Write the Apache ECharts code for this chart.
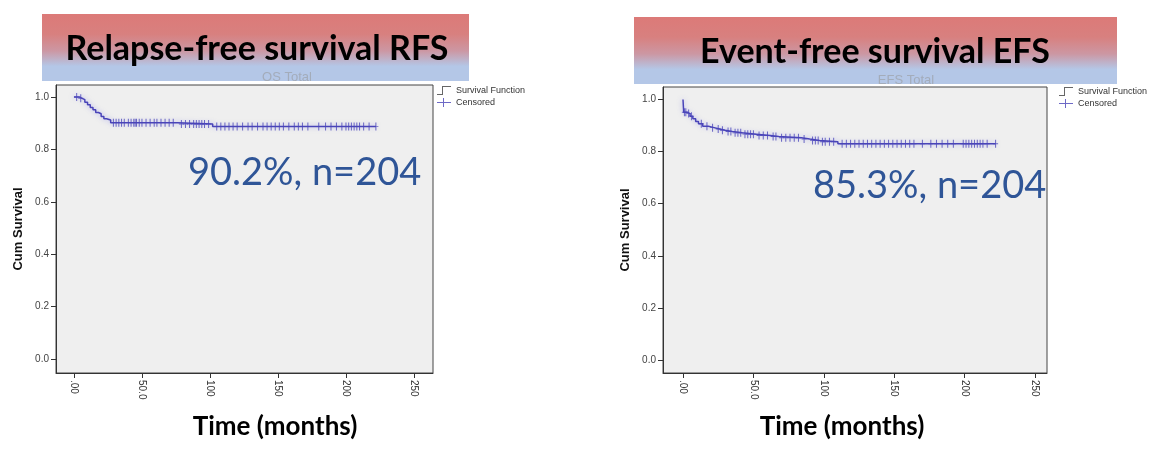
<!DOCTYPE html>
<html lang="en">
<head>
<meta charset="UTF-8"/>
<title>RFS / EFS survival</title>
<script src="https://cdn.jsdelivr.net/npm/echarts@6/dist/echarts.min.js"></script>
<style>
    html, body { margin: 0; padding: 0; background: #ffffff; }
    #chart { width: 1161px; height: 474px; }
</style>
</head>
<body>
<div id="chart"></div>
<script>
// ---- values ----
// Relapse-free survival: step points (months, cum survival after the event)
const rfsTimes = [0, 4, 6, 8, 10, 12, 14, 16, 18, 20, 22, 24, 27, 76, 102, 222];
const rfsSurv  = [1.000, 0.995, 0.990, 0.980, 0.970, 0.960, 0.951, 0.941, 0.936, 0.926, 0.917, 0.912, 0.902, 0.897, 0.887, 0.887];
const rfsCensored = [2, 5, 29, 31, 33, 35, 37, 40, 42, 44, 45, 46, 48, 50, 53, 56, 59, 61, 64, 67, 70, 73,
    79, 82, 85, 88, 90, 92, 94, 96, 99, 105, 108, 111, 114, 117, 120, 124, 128, 131, 135, 139, 142, 145,
    148, 151, 154, 158, 162, 165, 168, 172, 180, 185, 189, 193, 197, 200, 202, 204, 206, 208, 210, 213, 217, 222];

// Event-free survival
const efsTimes = [0, 0.5, 3, 5, 7, 9, 11, 14, 18, 22, 26, 30, 35, 42, 52, 62, 68, 84, 90, 97, 110, 222];
const efsSurv  = [1.000, 0.951, 0.946, 0.936, 0.926, 0.916, 0.907, 0.897, 0.892, 0.887, 0.882, 0.877, 0.872,
    0.867, 0.862, 0.858, 0.853, 0.848, 0.843, 0.838, 0.830, 0.830];
const efsCensored = [1, 2, 4, 6, 13, 17, 21, 25, 28, 32, 34, 37, 39, 41, 44, 46, 48, 50, 54, 57, 60, 64, 66,
    70, 73, 76, 79, 82, 86, 92, 94, 96, 99, 101, 104, 107, 113, 116, 119, 122, 125, 128, 131, 134, 137, 140,
    143, 146, 149, 152, 155, 158, 161, 164, 170, 176, 180, 184, 188, 192, 199, 201, 203, 205, 207, 209, 211,
    213, 216, 222];

const xTicks = [0, 50, 100, 150, 200, 250];
const xTickLabels = ['.00', '50.0', '100', '150', '200', '250'];
const yTicks = [0, 0.2, 0.4, 0.6, 0.8, 1.0];
const yTickLabels = ['0.0', '0.2', '0.4', '0.6', '0.8', '1.0'];

const curveColor = '#4944b8';
const plusPath = 'path://M2,0H3V4H5V5H3V9H2V5H0V4H2Z';
const legendPlusPath = 'path://M6,0H7V4H14V5H7V9H6V5H0V4H6Z';
const stepPath = 'path://M0,8H5V0H14V1H6V9H0Z';

function survAt(times, surv, t) {
    let s = surv[0];
    for (let i = 0; i < times.length; i++) if (times[i] <= t) s = surv[i];
    return s;
}

const chart = echarts.init(document.getElementById('chart'));

function xAxisOf(gi, min, max) {
    return {
        type: 'value', gridIndex: gi, min: min, max: max,
        axisLine: { show: true, onZero: false, lineStyle: { color: '#333', width: 1 } },
        axisTick: { show: true, length: 5, customValues: xTicks, lineStyle: { color: '#333' } },
        axisLabel: {
            customValues: xTicks, rotate: -90, fontSize: 10, color: '#333', margin: 7,
            fontFamily: 'Liberation Sans',
            formatter: v => xTickLabels[xTicks.indexOf(v)]
        },
        splitLine: { show: false }
    };
}
function yAxisOf(gi, min, max) {
    return {
        type: 'value', gridIndex: gi, min: min, max: max,
        name: 'Cum Survival', nameLocation: 'middle', nameGap: 31,
        nameTextStyle: { fontSize: 13, fontWeight: 'bold', color: '#111', fontFamily: 'Liberation Sans' },
        axisLine: { show: true, onZero: false, lineStyle: { color: '#333', width: 1 } },
        axisTick: { show: true, length: 5, customValues: yTicks, lineStyle: { color: '#333' } },
        axisLabel: {
            customValues: yTicks, fontSize: 10, color: '#444', margin: 7,
            fontFamily: 'Liberation Sans',
            formatter: v => yTickLabels[yTicks.indexOf(v)]
        },
        splitLine: { show: false }
    };
}
function legendOf(left, top) {
    return {
        left: left, top: top, orient: 'vertical', itemGap: 3, itemWidth: 14, itemHeight: 9,
        selectedMode: false, padding: 0,
        textStyle: { fontSize: 9, color: '#333', fontFamily: 'Liberation Sans' },
        data: [
            { name: 'Survival Function', icon: stepPath, itemStyle: { color: '#666' } },
            { name: 'Censored', icon: legendPlusPath, itemStyle: { color: curveColor } }
        ]
    };
}
function curveSeries(gi, times, surv) {
    return {
        name: 'Survival Function', type: 'line', step: 'end', xAxisIndex: gi, yAxisIndex: gi,
        showSymbol: false, silent: true,
        data: times.map((t, i) => [t, surv[i]]),
        lineStyle: { color: curveColor, width: 1.5, shadowColor: 'rgba(110,110,230,0.5)', shadowBlur: 5 }
    };
}
function censorSeries(gi, times, surv, cens) {
    return {
        name: 'Censored', type: 'scatter', xAxisIndex: gi, yAxisIndex: gi,
        symbol: plusPath, symbolSize: [5, 8], silent: true,
        itemStyle: { color: curveColor },
        data: cens.map(t => [t, survAt(times, surv, t)])
    };
}

const titleFill = new echarts.graphic.LinearGradient(0, 0, 0, 1, [
    { offset: 0, color: '#dc7a78' },
    { offset: 0.3, color: '#d8807f' },
    { offset: 0.55, color: '#cc97a3' },
    { offset: 0.78, color: '#b4c7e7' },
    { offset: 1, color: '#b4c7e7' }
]);

chart.setOption({
    backgroundColor: '#ffffff',
    animation: false,
    grid: [
        { left: 56, top: 85, width: 377, height: 288, show: true, backgroundColor: '#efefef', borderColor: '#444', borderWidth: 1 },
        { left: 663, top: 87, width: 384, height: 286, show: true, backgroundColor: '#efefef', borderColor: '#444', borderWidth: 1 }
    ],
    xAxis: [xAxisOf(0, -13.2, 264), xAxisOf(1, -14.2, 258.5)],
    yAxis: [yAxisOf(0, -0.0534, 1.0458), yAxisOf(1, -0.0499, 1.048)],
    legend: [legendOf(437, 86), legendOf(1059, 87)],
    series: [
        curveSeries(0, rfsTimes, rfsSurv),
        censorSeries(0, rfsTimes, rfsSurv, rfsCensored),
        curveSeries(1, efsTimes, efsSurv),
        censorSeries(1, efsTimes, efsSurv, efsCensored)
    ],
    graphic: [
        { type: 'rect', left: 42, top: 14, shape: { width: 427, height: 67 }, style: { fill: titleFill }, z: 10 },
        { type: 'text', x: 257, y: 49, z: 11, style: { text: 'Relapse-free survival RFS', font: 'bold 34px Lato', fill: '#000', align: 'center', verticalAlign: 'middle' } },
        { type: 'text', x: 287, y: 77, z: 12, style: { text: 'OS Total', font: '13px "Liberation Sans"', fill: 'rgba(150,150,150,0.55)', align: 'center', verticalAlign: 'middle' } },
        { type: 'rect', left: 634, top: 17, shape: { width: 483, height: 67 }, style: { fill: titleFill }, z: 10 },
        { type: 'text', x: 875, y: 52, z: 11, style: { text: 'Event-free survival EFS', font: 'bold 34px Lato', fill: '#000', align: 'center', verticalAlign: 'middle' } },
        { type: 'text', x: 906, y: 80, z: 12, style: { text: 'EFS Total', font: '13px "Liberation Sans"', fill: 'rgba(150,150,150,0.55)', align: 'center', verticalAlign: 'middle' } },
        { type: 'text', x: 188, y: 173, z: 12, style: { text: '90.2%, n=204', font: '38px Lato', fill: '#2f5597', verticalAlign: 'middle' } },
        { type: 'text', x: 813, y: 186, z: 12, style: { text: '85.3%, n=204', font: '38px Lato', fill: '#2f5597', verticalAlign: 'middle' } },
        { type: 'text', x: 275, y: 427, z: 12, style: { text: 'Time (months)', font: 'bold 26px Lato', fill: '#000', align: 'center', verticalAlign: 'middle' } },
        { type: 'text', x: 842, y: 427, z: 12, style: { text: 'Time (months)', font: 'bold 26px Lato', fill: '#000', align: 'center', verticalAlign: 'middle' } }
    ]
});

window.addEventListener('resize', () => chart.resize());
</script>
</body>
</html>
